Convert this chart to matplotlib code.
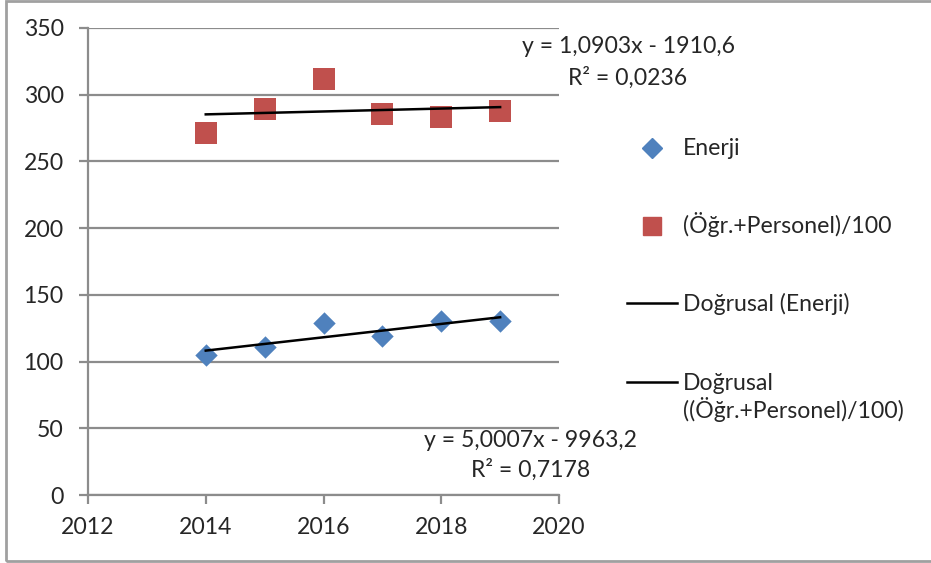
import numpy as np
import matplotlib.pyplot as plt
from matplotlib.lines import Line2D
from matplotlib.patches import Rectangle

plt.rcParams['font.family'] = ['Lato', 'DejaVu Sans']

# Data
years = [2014, 2015, 2016, 2017, 2018, 2019]
enerji = [105.0, 111.0, 128.8, 118.8, 130.5, 130.4]
ogr_personel = [271.0, 289.0, 312.0, 285.5, 283.0, 287.5]

# Linear trend coefficients (slope, intercept) and R²
trend_enerji = (5.0007, -9963.2)
r2_enerji = 0.7178
trend_ogr = (1.0903, -1910.6)
r2_ogr = 0.0236

x_ticks = [2012, 2014, 2016, 2018, 2020]
y_ticks = [0, 50, 100, 150, 200, 250, 300, 350]

W, H = 931, 563
fig = plt.figure(figsize=(W / 100, H / 100), dpi=100)
ax = fig.add_axes([88 / W, 1 - 495 / H, (559 - 88) / W, (495 - 28) / H])

grid_col = '#8c8c8c'
text_col = '#262626'
blue = '#4F81BD'
red = '#C0504D'
fs = 16.6

ax.set_xlim(2012, 2020)
ax.set_ylim(0, 350)
ax.set_xticks(x_ticks)
ax.set_yticks(y_ticks)
ax.yaxis.grid(True, color=grid_col, linewidth=1.6)
ax.set_axisbelow(True)
for side in ['top', 'right']:
    ax.spines[side].set_visible(False)
for side in ['left', 'bottom']:
    ax.spines[side].set_color(grid_col)
    ax.spines[side].set_linewidth(1.6)
ax.tick_params(axis='both', colors=grid_col, width=1.6, length=6.5,
               labelcolor=text_col, labelsize=fs)
ax.tick_params(axis='x', pad=9)
ax.tick_params(axis='y', pad=11)

# Scatter series
ax.scatter(years, enerji, marker='D', s=130, color=blue, zorder=3,
           linewidths=0)
ax.scatter(years, ogr_personel, marker='s', s=230, color=red, zorder=3,
           linewidths=0)

# Trend lines over the data range
xt = np.array([years[0], years[-1]], dtype=float)
ax.plot(xt, trend_enerji[0] * xt + trend_enerji[1], color='black',
        linewidth=1.8, zorder=4)
ax.plot(xt, trend_ogr[0] * xt + trend_ogr[1], color='black',
        linewidth=1.8, zorder=4)


def fmt(v, d):
    return f'{abs(v):.{d}f}'.replace('.', ',')


def eq_text(coef):
    sign = '-' if coef[1] < 0 else '+'
    return f'y = {fmt(coef[0], 4)}x {sign} {fmt(coef[1], 1)}'


def ftext(px, py, s, ha='left'):
    fig.text(px / W, 1 - py / H, s, ha=ha, va='baseline', fontsize=fs,
             color=text_col)


# Trend line equations
ftext(628, 53, eq_text(trend_ogr), ha='center')
ftext(628, 85, f'R² = {fmt(r2_ogr, 4)}', ha='center')
ftext(531, 447, eq_text(trend_enerji), ha='center')
ftext(531, 477, f'R² = {fmt(r2_enerji, 4)}', ha='center')

# Legend, laid out entry by entry
tf = fig.transFigure
fig.add_artist(Line2D([652 / W], [1 - 148 / H], marker='D', color=blue,
                      markersize=10.5, linestyle='none', transform=tf))
fig.add_artist(Line2D([652 / W], [1 - 226 / H], marker='s', color=red,
                      markersize=13.5, linestyle='none', transform=tf))
for py in (303, 382):
    fig.add_artist(Line2D([627 / W, 677 / W], [1 - py / H, 1 - py / H],
                          color='black', linewidth=1.8, transform=tf))
ftext(683, 155, 'Enerji')
ftext(683, 233, '(Öğr.+Personel)/100')
ftext(683, 311, 'Doğrusal (Enerji)')
ftext(683, 390, 'Doğrusal')
ftext(683, 418, '((Öğr.+Personel)/100)')

# Chart area border
fig.patches.append(Rectangle((6 / W, 1 - 561 / H), 1.2, (561 - 1) / H,
                             transform=tf, fill=False,
                             edgecolor='#a0a0a0', linewidth=2))

fig.savefig('out.png', dpi=100)
